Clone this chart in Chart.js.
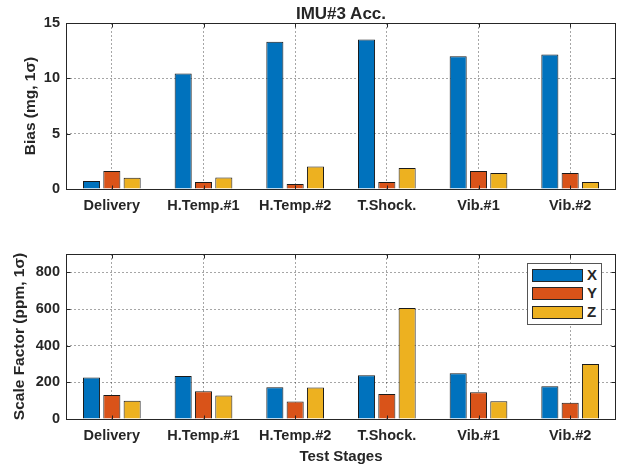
<!DOCTYPE html>
<html>
<head>
<meta charset="utf-8">
<script src="https://cdn.jsdelivr.net/npm/chart.js@4"></script>
<style>
  html, body { margin: 0; padding: 0; background: #fff; }
  body { width: 619px; height: 470px; position: relative; overflow: hidden; font-family: "Liberation Sans", Arial, sans-serif; }
  #c1 { position: absolute; left: 0; top: 0; }
  #c2 { position: absolute; left: 0; top: 230px; }
  #title { position: absolute; left: 66px; width: 550px; top: 4px; text-align: center; font: bold 17px "Liberation Sans", Arial, sans-serif; line-height: 20px; color: #262626; }
  #legend { position: absolute; left: 527px; top: 263px; width: 73px; height: 60px; border: 1px solid #555; background: #fff; }
  .item { position: absolute; left: 4px; height: 13px; }
  .sw { position: absolute; left: 0; top: 0; width: 49px; height: 11px; border: 1px solid #262626; }
  .lab { position: absolute; left: 55px; top: -3px; font: bold 15px "Liberation Sans", Arial, sans-serif; color: #262626; line-height: 18px; }
</style>
</head>
<body>
<canvas id="c1" width="619" height="230"></canvas>
<canvas id="c2" width="619" height="240"></canvas>
<div id="title">IMU#3 Acc.</div>
<div id="legend"></div>
<script>
// ---- data ----
const categories = ['Delivery', 'H.Temp.#1', 'H.Temp.#2', 'T.Shock.', 'Vib.#1', 'Vib.#2'];
const seriesNames = ['X', 'Y', 'Z'];
const biasX = [0.72, 10.43, 13.3, 13.5, 12.0, 12.15];
const biasY = [1.62, 0.63, 0.45, 0.63, 1.62, 1.44];
const biasZ = [1.02, 1.04, 2.03, 1.9, 1.44, 0.63];
const sfX = [226, 234, 173, 239, 250, 179];
const sfY = [131, 152, 95, 137, 146, 89];
const sfZ = [100, 128, 172, 605, 97, 300];
const biasTicks = [0, 5, 10, 15];
const sfTicks = [0, 200, 400, 600, 800];

const colors = ['#0072BD', '#D95319', '#EDB120'];
const textColor = '#262626';
const FONT = '"Liberation Sans", Arial, sans-serif';

const boxPlugin = {
  id: 'boxPlugin',
  afterDraw(chart) {
    const {ctx, chartArea: a, scales} = chart;
    ctx.save();
    ctx.strokeStyle = textColor;
    ctx.lineWidth = 1;
    const L = Math.round(a.left) + 0.5, R = Math.round(a.right) - 0.5;
    const T = Math.round(a.top) + 0.5, B = Math.round(a.bottom) + 0.5;
    ctx.strokeRect(L, T, R - L, B - T);
    const tl = 4;
    ctx.beginPath();
    scales.y.ticks.forEach(t => {
      const y = Math.round(scales.y.getPixelForValue(t.value)) + 0.5;
      ctx.moveTo(L, y); ctx.lineTo(L + tl, y);
      ctx.moveTo(R, y); ctx.lineTo(R - tl, y);
    });
    scales.x.ticks.forEach((t, i) => {
      const x = Math.round(scales.x.getPixelForValue(i)) + 0.5;
      ctx.moveTo(x, B); ctx.lineTo(x, B - tl);
      ctx.moveTo(x, T); ctx.lineTo(x, T + tl);
    });
    ctx.stroke();
    ctx.restore();
  }
};

function makeChart(canvasId, seriesData, yTitle, yMax, yStep, yTicks, opts) {
  const ctx = document.getElementById(canvasId);
  return new Chart(ctx, {
    type: 'bar',
    data: {
      labels: categories,
      datasets: seriesData.map((d, i) => ({
        label: seriesNames[i],
        data: d,
        backgroundColor: colors[i],
        borderColor: '#1a1a1a',
        borderWidth: 1,
        borderSkipped: 'bottom',
        barPercentage: 0.84,
        categoryPercentage: 0.665
      }))
    },
    options: {
      responsive: false,
      animation: false,
      devicePixelRatio: 1,
      layout: { padding: { left: 0, right: 3, top: opts.padTop, bottom: 0 } },
      plugins: {
        legend: { display: false },
        tooltip: { enabled: false },
        title: { display: false }
      },
      scales: {
        x: {
          grid: { display: true, offset: false, drawTicks: false, color: 'rgba(0,0,0,0.35)' },
          border: { display: false, dash: [2, 2] },
          ticks: { color: textColor, padding: 8, maxRotation: 0, autoSkip: false,
                   font: { family: FONT, size: 14.5, weight: 'bold' } },
          title: opts.xTitle ? { display: true, text: opts.xTitle, color: textColor,
                   font: { family: FONT, size: 15, weight: 'bold' }, padding: { top: 4, bottom: 4 } } : { display: false },
          afterFit(s) { s.height = opts.xHeight; }
        },
        y: {
          min: 0, max: yMax,
          grid: { display: true, drawTicks: false, color: 'rgba(0,0,0,0.35)' },
          border: { display: false, dash: [2, 2] },
          ticks: { stepSize: yStep, includeBounds: false, color: textColor, padding: 6,
                   font: { family: FONT, size: 14.5, weight: 'bold' } },
          afterBuildTicks(s) { s.ticks = yTicks.map(v => ({ value: v })); },
          title: { display: true, text: yTitle, color: textColor,
                   font: { family: FONT, size: 15.5, weight: 'bold' }, padding: { top: opts.yTitlePad, bottom: 0 } },
          afterFit(s) { s.width = 66; }
        }
      }
    },
    plugins: [boxPlugin]
  });
}

makeChart('c1', [biasX, biasY, biasZ], 'Bias (mg, 1σ)', 15, 5, biasTicks,
  { padTop: 23, xHeight: 41, yTitlePad: 21 });
makeChart('c2', [sfX, sfY, sfZ], 'Scale Factor (ppm, 1σ)', 900, 200, sfTicks,
  { padTop: 24, xHeight: 51, xTitle: 'Test Stages', yTitlePad: 10 });

// legend (HTML text)
const lg = document.getElementById('legend');
seriesNames.forEach((n, i) => {
  const it = document.createElement('div');
  it.className = 'item';
  it.style.top = [5, 23, 42][i] + 'px';
  it.innerHTML = '<div class="sw" style="background:' + colors[i] + '"></div><div class="lab">' + n + '</div>';
  lg.appendChild(it);
});
</script>
</body>
</html>
